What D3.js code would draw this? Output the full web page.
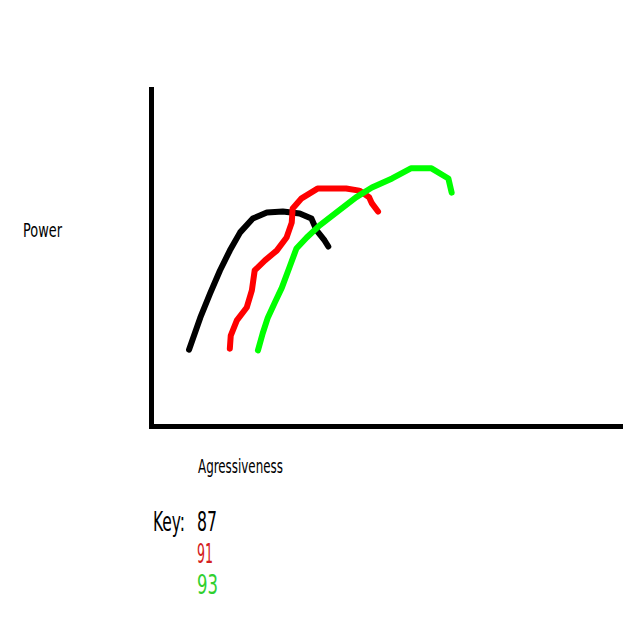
<!DOCTYPE html>
<html>
<head>
<meta charset="utf-8">
<script src="https://cdn.jsdelivr.net/npm/d3@7"></script>
<style>
  html, body { margin: 0; padding: 0; background: #fff; }
  svg { display: block; }
  text { font-family: "Liberation Sans Narrow", "DejaVu Sans Condensed", "Liberation Sans", sans-serif; }
</style>
</head>
<body>
<svg width="631" height="630"></svg>
<script>
// Hand drawn curves (x = aggressiveness, y = power, both 0-100).
let octane_labels = ["87", "91", "93"];
let line_colours = ["#000000", "#ff0000", "#00ff00"];
let text_colours = ["#000000", "#d42020", "#30d030"];

let x87 = [8.0, 10.4, 12.5, 14.6, 16.7, 18.9, 21.6, 24.6, 28.0, 31.6, 34.1, 35.2, 36.9, 37.7];
let y87 = [22.8, 32.3, 39.5, 46.3, 52.2, 57.6, 61.7, 63.5, 63.8, 63.2, 61.7, 58.2, 55.2, 53.4];

let x91 = [16.7, 16.9, 18.2, 20.3, 21.4, 22.0, 24.2, 26.7, 28.8, 29.9, 30.1, 32.0, 35.4, 41.5, 44.3, 46.4, 47.0, 48.3];
let y91 = [23.1, 27.0, 31.5, 35.3, 40.4, 46.3, 49.3, 52.2, 56.1, 60.5, 64.7, 67.7, 70.6, 70.6, 70.0, 68.0, 66.2, 63.8];

let x93 = [22.7, 23.7, 24.8, 26.3, 27.8, 29.4, 30.9, 33.1, 35.8, 40.0, 43.6, 47.0, 51.3, 55.3, 59.7, 63.3, 64.0];
let y93 = [22.6, 27.6, 32.3, 36.8, 41.2, 47.2, 52.8, 56.1, 59.6, 64.1, 68.0, 70.9, 73.6, 76.6, 76.6, 73.6, 69.4];

let series = [[x87, y87], [x91, y91], [x93, y93]];

let svg = d3.select("svg");

// Plot area, matching the drawn axes.
let x = d3.scaleLinear().domain([0, 100]).range([151.5, 620.5]);
let y = d3.scaleLinear().domain([0, 100]).range([426.5, 89.5]);

// Axes: just two thick strokes, no ticks.
svg.append("line")
    .attr("x1", x(0)).attr("y1", y(0))
    .attr("x2", x(0)).attr("y2", y(100))
    .style("stroke", "#000")
    .style("stroke-width", 5)
    .style("stroke-linecap", "square");

svg.append("line")
    .attr("x1", x(0)).attr("y1", y(0))
    .attr("x2", x(100)).attr("y2", y(0))
    .style("stroke", "#000")
    .style("stroke-width", 5)
    .style("stroke-linecap", "square");

// The three curves.
let line = d3.line()
    .x(d => x(d[0]))
    .y(d => y(d[1]));

series.forEach(function (s, i) {
    let pts = d3.zip(s[0], s[1]);
    svg.append("path")
        .datum(pts)
        .attr("d", line)
        .style("fill", "none")
        .style("stroke", line_colours[i])
        .style("stroke-width", 6)
        .style("stroke-linecap", "round")
        .style("stroke-linejoin", "round");
});

// Text squeezed sideways to the narrow look of the original.
let add_text = function (str, px, py, size, len, colour) {
    let t = svg.append("text")
        .attr("x", 0)
        .attr("y", 0)
        .style("font-size", size + "px")
        .style("fill", colour)
        .text(str);
    let sx = len / t.node().getComputedTextLength();
    t.attr("transform", "translate(" + px + "," + py + ") scale(" + sx + ",1)");
};

add_text("Power", 23, 237, 19, 39, "#000");
add_text("Agressiveness", 198, 473, 19, 85, "#000");

// Key.
add_text("Key:", 153, 531, 27, 32, "#000");
let key_y = [531, 563, 594];
let key_len = [20, 16, 21];
octane_labels.forEach(function (lab, i) {
    add_text(lab, 197, key_y[i], 26, key_len[i], text_colours[i]);
});
</script>
</body>
</html>
